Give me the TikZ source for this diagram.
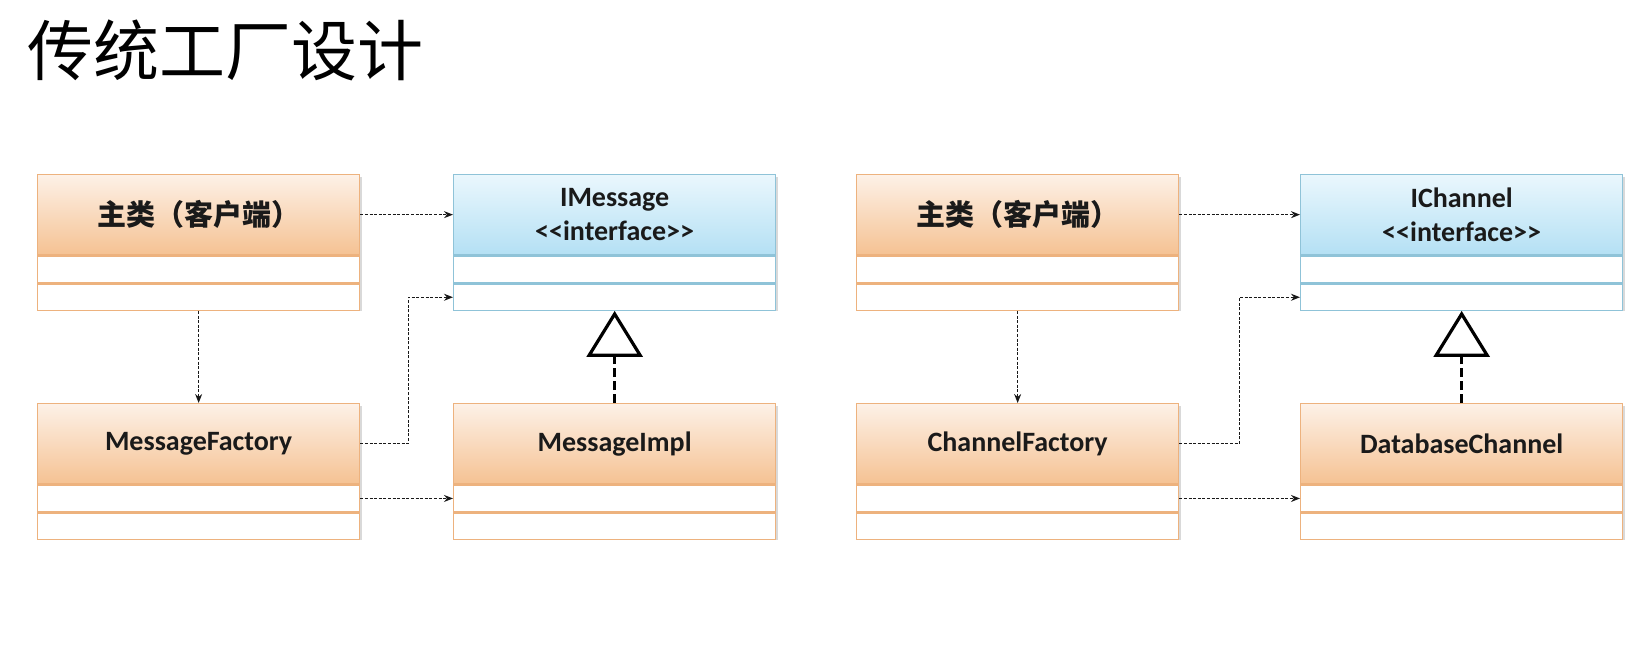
\documentclass[tikz,border=0pt]{standalone}
\usepackage{fontspec}
\setmainfont{Carlito}
\newfontfamily\cjk{Noto Sans CJK SC}
\usetikzlibrary{arrows.meta}
\definecolor{orTop}{HTML}{FDF1E7}
\definecolor{orBot}{HTML}{F5C293}
\definecolor{orLine}{HTML}{EDB27E}
\definecolor{blTop}{HTML}{EAF7FD}
\definecolor{blBot}{HTML}{B4E0F4}
\definecolor{blLine}{HTML}{8FC3D8}
\definecolor{txt}{HTML}{1A1A1A}
\tikzset{
  hdrbase/.style={draw, line width=1.3pt, inner sep=0pt, minimum width=322pt,
    minimum height=80pt, align=center, text=txt,
    font=\bfseries\fontsize{28}{34}\selectfont},
  orhdr/.style={hdrbase, draw=orLine, top color=orTop, bottom color=orBot},
  blhdr/.style={hdrbase, draw=blLine, top color=blTop, bottom color=blBot},
  cmpbase/.style={draw, line width=1.3pt, inner sep=0pt, minimum width=322pt, fill=white},
  orcmp/.style={cmpbase, draw=orLine},
  blcmp/.style={cmpbase, draw=blLine},
  boxshadow/.style={fill=black, opacity=0.15},
  dep/.style={draw=black!90, line width=1.2pt, dash pattern=on 3pt off 1.6pt,
    -{Stealth[length=9pt,width=7pt,fill=black]}},
  realize/.style={draw=black, line width=3.2pt, dash pattern=on 9pt off 4pt,
    -{Triangle[open, length=46pt, width=56pt]}},
}
\newcommand\umlclass[5]{%
  \fill[boxshadow] (#2+2,#3+3) rectangle (#2+325,#3+137);
  \node[#4hdr, anchor=north west] (#1) at (#2,#3) {#5};
  \node[#4cmp, anchor=north, minimum height=27pt] (#1-a) at (#1.south) {};
  \node[#4cmp, anchor=north, minimum height=26pt] (#1-b) at (#1-a.south) {};
}
\begin{document}
\begin{tikzpicture}[x=1pt,y=-1pt]
\fill[white] (0,0) rectangle (1646,670);
\useasboundingbox (0,0) rectangle (1646,670);

\node[anchor=west, inner sep=0pt, font=\cjk\fontsize{66}{70}\selectfont] (title) at (27,50) {传统工厂设计};

% left group
\umlclass{mainA}{37}{174}{or}{{\cjk\bfseries\fontsize{29}{34}\selectfont 主类（客户端）}}
\umlclass{imsg}{453}{174}{bl}{IMessage\\{<}{<}interface{>}{>}}
\umlclass{mfac}{37}{403}{or}{MessageFactory}
\umlclass{mimpl}{453}{403}{or}{MessageImpl}

% right group
\umlclass{mainB}{856}{174}{or}{{\cjk\bfseries\fontsize{29}{34}\selectfont 主类（客户端）}}
\umlclass{ichan}{1300}{174}{bl}{IChannel\\{<}{<}interface{>}{>}}
\umlclass{cfac}{856}{403}{or}{ChannelFactory}
\umlclass{dbch}{1300}{403}{or}{DatabaseChannel}

% connectors left
\draw[dep] (mainA.east) -- (imsg.west);
\draw[dep] (mainA-b.south) -- (mfac.north);
\draw[dep] (mfac.east) -- ++(48,0) |- (imsg-b.west);
\draw[dep] (mfac-a.east) -- (mimpl-a.west);
\draw[realize] (mimpl.north) -- (imsg-b.south);

% connectors right
\draw[dep] (mainB.east) -- (ichan.west);
\draw[dep] (mainB-b.south) -- (cfac.north);
\draw[dep] (cfac.east) -- ++(60,0) |- (ichan-b.west);
\draw[dep] (cfac-a.east) -- (dbch-a.west);
\draw[realize] (dbch.north) -- (ichan-b.south);
\end{tikzpicture}
\end{document}
